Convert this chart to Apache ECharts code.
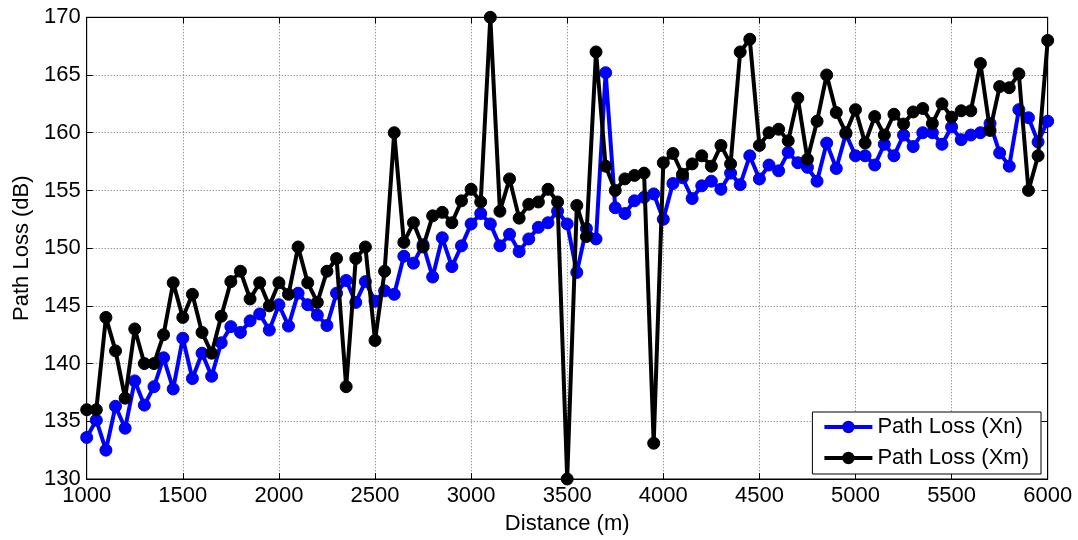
<!DOCTYPE html>
<html>
<head>
<meta charset="utf-8">
<script src="https://cdn.jsdelivr.net/npm/echarts@6/dist/echarts.min.js"></script>
<style>
html,body{margin:0;padding:0;background:#fff;}
#chart{width:1078px;height:540px;}
</style>
</head>
<body>
<div id="chart"></div>
<script>
var distances = [1000,1050,1100,1150,1200,1250,1300,1350,1400,1450,
1500,1550,1600,1650,1700,1750,1800,1850,1900,1950,
2000,2050,2100,2150,2200,2250,2300,2350,2400,2450,
2500,2550,2600,2650,2700,2750,2800,2850,2900,2950,
3000,3050,3100,3150,3200,3250,3300,3350,3400,3450,
3500,3550,3600,3650,3700,3750,3800,3850,3900,3950,
4000,4050,4100,4150,4200,4250,4300,4350,4400,4450,
4500,4550,4600,4650,4700,4750,4800,4850,4900,4950,
5000,5050,5100,5150,5200,5250,5300,5350,5400,5450,
5500,5550,5600,5650,5700,5750,5800,5850,5900,5950,6000];

var pathLossXn = [133.6,135.1,132.5,136.3,134.4,138.5,136.4,138.0,140.5,137.8,
142.2,138.7,140.9,138.9,141.8,143.2,142.7,143.7,144.3,142.9,
145.1,143.25,146.1,145.1,144.2,143.3,146.1,147.2,145.3,147.1,
145.4,146.3,146.0,149.3,148.7,150.3,147.5,150.9,148.4,150.2,
152.1,153.0,152.1,150.2,151.2,149.7,150.8,151.8,152.2,153.2,
152.1,147.9,151.7,150.8,165.2,153.5,153.0,154.1,154.4,154.7,
152.5,155.6,156.1,154.3,155.4,155.8,155.1,156.5,155.5,158.0,
156.0,157.2,156.7,158.3,157.4,157.0,155.8,159.1,156.9,159.9,
158.0,158.0,157.2,159.0,158.0,159.8,158.8,160.0,160.0,159.0,
160.5,159.4,159.8,160.0,160.8,158.25,157.1,162.0,161.3,159.2,161.0];

var pathLossXm = [136.0,136.0,144.0,141.1,137.0,143.0,140.0,140.0,142.5,147.0,
144.0,146.0,142.7,140.9,144.1,147.1,148.0,145.6,147.0,145.0,
147.0,146.0,150.1,147.0,145.3,148.0,149.1,138.0,149.1,150.1,
142.0,148.0,160.0,150.5,152.2,150.1,152.8,153.1,152.2,154.1,
155.1,154.0,170.0,153.2,156.0,152.6,153.8,154.0,155.1,154.0,
130.0,153.7,151.0,167.0,157.1,155.0,156.0,156.3,156.5,133.1,
157.4,158.2,156.4,157.3,158.0,157.1,158.9,157.3,167.0,168.1,
158.9,160.0,160.3,159.3,163.0,157.7,161.0,165.0,161.75,160.0,
162.0,159.1,161.4,159.8,161.6,160.75,161.8,162.1,160.8,162.5,
161.35,161.9,161.9,166.0,160.2,164.0,163.9,165.1,155.0,158.0,168.0];

var seriesNames = ['Path Loss (Xn)', 'Path Loss (Xm)'];
var seriesColors = ['#0000ff', '#000000'];
var xAxisTitle = 'Distance (m)';
var yAxisTitle = 'Path Loss (dB)';

function pairs(ys){
  var out = [];
  for (var i = 0; i < distances.length; i++) out.push([distances[i], ys[i]]);
  return out;
}

var FONT = 'Liberation Sans, Arial, sans-serif';
var FS = 22;

var chart = echarts.init(document.getElementById('chart'), null, {renderer: 'canvas'});

var gridLine = {show: true, lineStyle: {color: '#6f6f6f', type: [1, 2], width: 1}};

var option = {
  animation: false,
  backgroundColor: '#fff',
  grid: {left: 86.7, right: 30.3, top: 17.3, bottom: 59, show: true, borderColor: '#000', borderWidth: 1, backgroundColor: 'transparent'},
  legend: {
    orient: 'vertical',
    right: 37,
    bottom: 66,
    data: [
      {name: seriesNames[0], lineStyle: {width: 4, color: seriesColors[0]}, itemStyle: {color: seriesColors[0]}},
      {name: seriesNames[1], lineStyle: {width: 4, color: seriesColors[1]}, itemStyle: {color: seriesColors[1]}}
    ],
    backgroundColor: '#fff',
    borderColor: '#000',
    borderWidth: 1,
    padding: [4, 12, 5, 10],
    itemGap: 9,
    itemWidth: 48,
    itemHeight: 13,
    textStyle: {fontFamily: FONT, fontSize: FS, color: '#000'}
  },
  xAxis: [{
    type: 'value', min: 1000, max: 6000, interval: 500,
    name: xAxisTitle, nameLocation: 'middle', nameGap: 34,
    nameTextStyle: {fontFamily: FONT, fontSize: FS, color: '#000'},
    axisLine: {show: true, lineStyle: {color: '#000', width: 1}},
    axisTick: {show: true, inside: true, length: 6, lineStyle: {color: '#000'}},
    axisLabel: {fontFamily: FONT, fontSize: FS, color: '#000', margin: 6, formatter: function(v){ return String(v); }},
    splitLine: gridLine
  }, {
    type: 'value', min: 1000, max: 6000, interval: 500, position: 'top',
    axisLine: {show: true, lineStyle: {color: '#000', width: 1}},
    axisTick: {show: true, inside: true, length: 6, lineStyle: {color: '#000'}},
    axisLabel: {show: false}, splitLine: {show: false}
  }],
  yAxis: [{
    type: 'value', min: 130, max: 170, interval: 5,
    name: yAxisTitle, nameLocation: 'middle', nameGap: 52, nameRotate: 90,
    nameTextStyle: {fontFamily: FONT, fontSize: FS, color: '#000'},
    axisLine: {show: true, lineStyle: {color: '#000', width: 1}},
    axisTick: {show: true, inside: true, length: 6, lineStyle: {color: '#000'}},
    axisLabel: {fontFamily: FONT, fontSize: FS, color: '#000', margin: 6, formatter: function(v){ return String(v); }},
    splitLine: gridLine
  }, {
    type: 'value', min: 130, max: 170, interval: 5, position: 'right',
    axisLine: {show: true, lineStyle: {color: '#000', width: 1}},
    axisTick: {show: true, inside: true, length: 6, lineStyle: {color: '#000'}},
    axisLabel: {show: false}, splitLine: {show: false}
  }],
  series: [{
    name: seriesNames[0], type: 'line', data: pairs(pathLossXn),
    xAxisIndex: 0, yAxisIndex: 0, clip: false,
    symbol: 'circle', symbolSize: 12,
    lineStyle: {color: seriesColors[0], width: 4},
    itemStyle: {color: seriesColors[0], borderColor: '#0000d8', borderWidth: 1},
    z: 2
  }, {
    name: seriesNames[1], type: 'line', data: pairs(pathLossXm),
    xAxisIndex: 0, yAxisIndex: 0, clip: false,
    symbol: 'circle', symbolSize: 12,
    lineStyle: {color: seriesColors[1], width: 4},
    itemStyle: {color: seriesColors[1], borderColor: '#000', borderWidth: 1},
    z: 3
  }]
};
chart.setOption(option);
</script>
</body>
</html>
